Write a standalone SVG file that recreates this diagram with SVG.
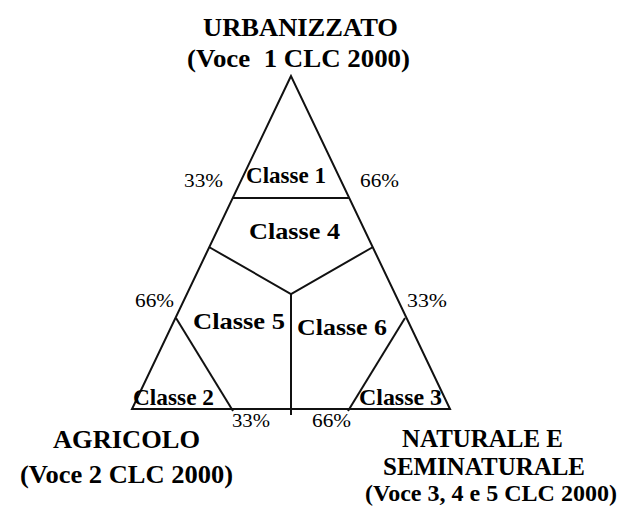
<svg xmlns="http://www.w3.org/2000/svg" width="623" height="511" viewBox="0 0 623 511">
<style>
.ln{stroke:#111;stroke-width:2;fill:none;stroke-linecap:butt;stroke-linejoin:miter}
.t{font-family:"Liberation Serif","Times New Roman",serif;fill:#000;white-space:pre}
.b{font-weight:bold}
.title{font-size:26px}
.cls{font-size:24px}
.pct{font-size:19px}
</style>
<rect width="623" height="511" fill="#fff"/>
<g id="connectors">
<polygon class="ln" points="291,76 132,409 450,409"/>
<line class="ln" x1="233" y1="198" x2="349" y2="198"/>
<polyline class="ln" points="209,247 291,294 373,247"/>
<line class="ln" x1="291" y1="294" x2="291" y2="415"/>
<line class="ln" x1="176" y1="318" x2="233" y2="411"/>
<line class="ln" x1="405" y1="318" x2="348" y2="411"/>
</g>
<g id="urbanizzato">
<text class="t b title" x="203" y="36" textLength="195" lengthAdjust="spacingAndGlyphs">URBANIZZATO</text>
<text class="t b title" x="187" y="67" textLength="223" lengthAdjust="spacingAndGlyphs">(Voce  1 CLC 2000)</text>
</g>
<g id="agricolo">
<text class="t b title" x="53" y="448" textLength="147" lengthAdjust="spacingAndGlyphs">AGRICOLO</text>
<text class="t b title" x="20" y="483" textLength="213" lengthAdjust="spacingAndGlyphs">(Voce 2 CLC 2000)</text>
</g>
<g id="naturale">
<text class="t b title" x="402" y="447" textLength="161" lengthAdjust="spacingAndGlyphs">NATURALE E</text>
<text class="t b title" x="383" y="475" textLength="202" lengthAdjust="spacingAndGlyphs">SEMINATURALE</text>
<text class="t b" style="font-size:24px" x="365" y="501" textLength="252" lengthAdjust="spacingAndGlyphs">(Voce 3, 4 e 5 CLC 2000)</text>
</g>
<g id="classe1"><text class="t b cls" x="246" y="183" textLength="80" lengthAdjust="spacingAndGlyphs">Classe 1</text></g>
<g id="classe4"><text class="t b cls" x="249" y="239" textLength="91" lengthAdjust="spacingAndGlyphs">Classe 4</text></g>
<g id="classe5"><text class="t b cls" x="193" y="329" textLength="92" lengthAdjust="spacingAndGlyphs">Classe 5</text></g>
<g id="classe6"><text class="t b cls" x="297" y="335" textLength="90" lengthAdjust="spacingAndGlyphs">Classe 6</text></g>
<g id="classe2"><text class="t b cls" x="133" y="405" textLength="81" lengthAdjust="spacingAndGlyphs">Classe 2</text></g>
<g id="classe3"><text class="t b cls" x="359" y="405" textLength="83" lengthAdjust="spacingAndGlyphs">Classe 3</text></g>
<g id="percentages">
<text class="t pct" x="184" y="187" textLength="39" lengthAdjust="spacingAndGlyphs">33%</text>
<text class="t pct" x="360" y="187" textLength="39" lengthAdjust="spacingAndGlyphs">66%</text>
<text class="t pct" x="135" y="307" textLength="39" lengthAdjust="spacingAndGlyphs">66%</text>
<text class="t pct" x="407" y="307" textLength="40" lengthAdjust="spacingAndGlyphs">33%</text>
<text class="t pct" x="232" y="427" textLength="38" lengthAdjust="spacingAndGlyphs">33%</text>
<text class="t pct" x="312" y="427" textLength="39" lengthAdjust="spacingAndGlyphs">66%</text>
</g>
</svg>
